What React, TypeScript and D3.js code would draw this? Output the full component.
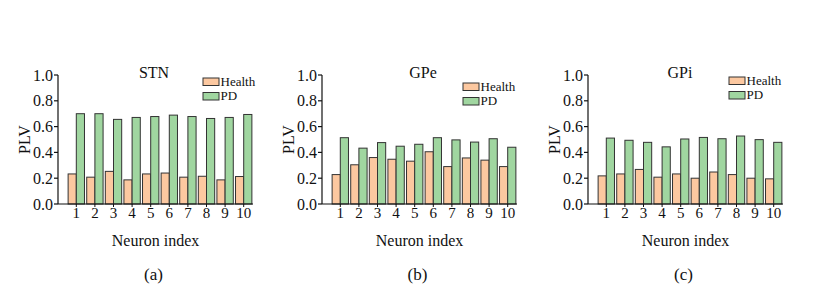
import React from 'react';
import * as d3 from 'd3';

// neuron indices on the x axis
const neurons = ['1', '2', '3', '4', '5', '6', '7', '8', '9', '10'];
const yTicks = [0, 0.2, 0.4, 0.6, 0.8, 1.0];
const seriesNames = ['Health', 'PD'];

const panelTitles = ['STN', 'GPe', 'GPi'];
const panelTags = ['(a)', '(b)', '(c)'];

const stnHealth = [0.233, 0.208, 0.253, 0.187, 0.233, 0.24, 0.208, 0.215, 0.187, 0.213];
const stnPD = [0.70, 0.70, 0.656, 0.671, 0.678, 0.689, 0.678, 0.663, 0.671, 0.694];
const gpeHealth = [0.228, 0.304, 0.36, 0.347, 0.332, 0.405, 0.29, 0.357, 0.34, 0.29];
const gpePD = [0.514, 0.433, 0.476, 0.448, 0.463, 0.514, 0.497, 0.48, 0.506, 0.44];
const gpiHealth = [0.218, 0.233, 0.268, 0.208, 0.233, 0.2, 0.248, 0.228, 0.2, 0.195];
const gpiPD = [0.511, 0.494, 0.478, 0.443, 0.504, 0.516, 0.506, 0.527, 0.499, 0.478];

const healthSets = [stnHealth, gpeHealth, gpiHealth];
const pdSets = [stnPD, gpePD, gpiPD];

// layout
const axisLeft = [58, 322, 588];
const titleDx = [96, 101, 92];
const legendDx = [145, 141, 141];
const legendTop = [78, 83, 77];
const plotW = 195;
const yTop = 75;
const yBottom = 204;
const colors = ['#fcc8a0', '#a0d6a0'];
const serif = "'Liberation Serif', 'Times New Roman', Times, serif";

function Panel({ i }: { i: number }) {
  const x0 = axisLeft[i];
  const y = d3.scaleLinear().domain([0, 1]).range([yBottom, yTop]);
  const x = d3.scaleBand<string>()
    .domain(neurons)
    .range([x0 + 9, x0 + plotW])
    .paddingInner(0.12)
    .paddingOuter(0.06);
  const sub = d3.scaleBand<string>().domain(seriesNames).range([0, x.bandwidth()]);
  const sets = [healthSets[i], pdSets[i]];
  const cx = x0 + plotW / 2;

  return (
    <g fill="#111">
      {sets.map((vals, s) =>
        vals.map((v, k) => (
          <rect
            key={`${s}-${k}`}
            x={(x(neurons[k]) as number) + (sub(seriesNames[s]) as number)}
            y={y(v)}
            width={sub.bandwidth()}
            height={y(0) - y(v)}
            fill={colors[s]}
            stroke="#333"
            strokeWidth={1}
          />
        ))
      )}
      {/* y axis */}
      <line x1={x0} x2={x0} y1={yBottom} y2={yTop} stroke="#111" strokeWidth={1.2} />
      {yTicks.map(t => (
        <g key={t}>
          <line x1={x0 - 4} x2={x0} y1={y(t)} y2={y(t)} stroke="#111" strokeWidth={1.2} />
          <text x={x0 - 5} y={y(t)} dy="0.35em" textAnchor="end" fontSize={16}>{t.toFixed(1)}</text>
        </g>
      ))}
      {/* x axis */}
      <line x1={x0} x2={x0 + plotW} y1={yBottom} y2={yBottom} stroke="#111" strokeWidth={1.2} />
      {neurons.map(n => {
        const c = (x(n) as number) + x.bandwidth() / 2;
        return (
          <g key={n}>
            <line x1={c} x2={c} y1={yBottom} y2={yBottom + 3} stroke="#111" />
            <text x={c} y={yBottom + 14} textAnchor="middle" fontSize={15}>{n}</text>
          </g>
        );
      })}
      <text x={cx} y={246} textAnchor="middle" fontSize={16}>Neuron index</text>
      <text x={cx - 2} y={280} textAnchor="middle" fontSize={17}>{panelTags[i]}</text>
      <text
        transform={`translate(${x0 - 28},${(yTop + yBottom) / 2}) rotate(-90)`}
        textAnchor="middle"
        fontSize={16}
      >PLV</text>
      <text x={x0 + titleDx[i]} y={78} textAnchor="middle" fontSize={16}>{panelTitles[i]}</text>
      {seriesNames.map((name, s) => (
        <g key={name}>
          <rect
            x={x0 + legendDx[i]}
            y={legendTop[i] + s * 14.5}
            width={16}
            height={7.5}
            fill={colors[s]}
            stroke="#333"
          />
          <text x={x0 + legendDx[i] + 17.5} y={legendTop[i] + s * 14.5 + 7.5} fontSize={13}>{name}</text>
        </g>
      ))}
    </g>
  );
}

export default function App() {
  return (
    <svg
      width={814}
      height={299}
      style={{ position: 'absolute', left: 0, top: 0, background: '#fff', fontFamily: serif }}
    >
      {[0, 1, 2].map(i => <Panel key={i} i={i} />)}
    </svg>
  );
}
